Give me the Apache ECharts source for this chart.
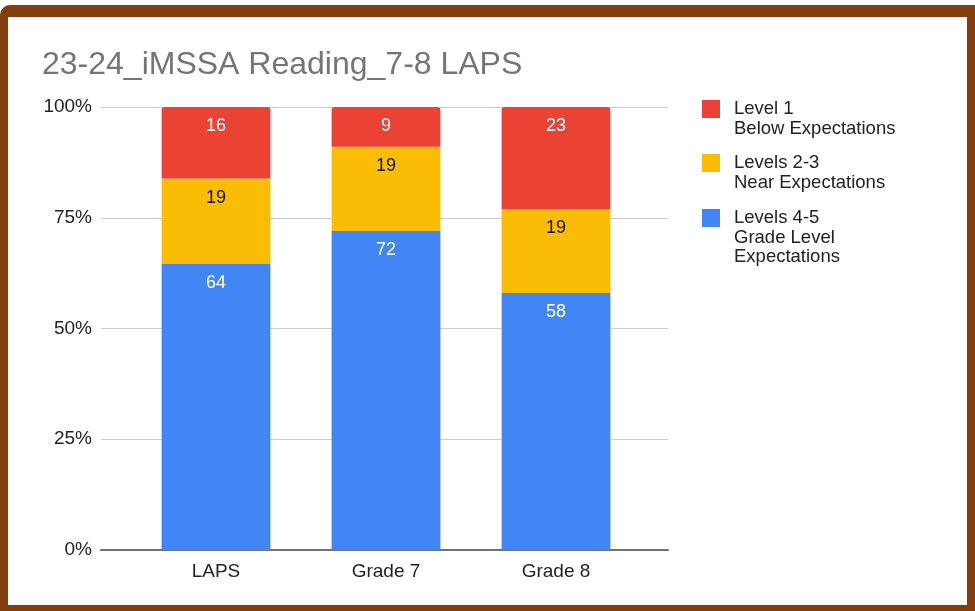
<!DOCTYPE html>
<html>
<head>
<meta charset="utf-8">
<script src="https://cdn.jsdelivr.net/npm/echarts@6/dist/echarts.min.js"></script>
<style>
  html, body { margin: 0; padding: 0; background: #ffffff; }
  #frame { position: absolute; left: 0; top: 5px; width: 975px; height: 606px; background: #833c0b; border-top-left-radius: 10px; }
  #inner { position: absolute; left: 8px; top: 17px; width: 959px; height: 588px; background: #ffffff; }
  #chart { position: absolute; left: 0; top: 0; width: 975px; height: 611px; }
</style>
</head>
<body>
<div id="frame"></div>
<div id="inner"></div>
<div id="chart"></div>
<script>
const titleText = '23-24_iMSSA Reading_7-8 LAPS';
const categories = ['LAPS', 'Grade 7', 'Grade 8'];
const level1 = [16, 9, 23];
const level23 = [19, 19, 19];
const level45 = [64, 72, 58];
const seriesNames = ['Level 1\nBelow Expectations', 'Levels 2-3\nNear Expectations', 'Levels 4-5\nGrade Level\nExpectations'];
const seriesColors = ['#ea4335', '#fbbc04', '#4285f4'];
const yTickValues = [0, 25, 50, 75, 100];

const totals = categories.map((c, i) => level1[i] + level23[i] + level45[i]);
const pct = arr => arr.map((v, i) => v / totals[i] * 100);

const font = '"Liberation Sans", Arial, sans-serif';

function mkSeries(name, raw, color, labelColor, radius) {
  return {
    name: name,
    type: 'bar',
    stack: 'total',
    xAxisIndex: 1,
    yAxisIndex: 1,
    barCategoryGap: '36%',
    data: pct(raw),
    itemStyle: { color: color, borderRadius: radius },
    label: {
      show: true,
      position: 'insideTop',
      distance: 10,
      color: labelColor,
      fontFamily: font,
      fontSize: 18,
      formatter: p => String(raw[p.dataIndex])
    }
  };
}

function mkLegend(idx, top, pre) {
  return {
    orient: 'vertical',
    left: 702,
    top: top,
    padding: 0,
    icon: 'rect',
    itemWidth: 18,
    itemHeight: 18,
    selectedMode: false,
    data: [seriesNames[idx]],
    formatter: name => pre + name,
    textStyle: { fontFamily: font, fontSize: 18.5, color: '#222222', lineHeight: 19.5, padding: [0, 0, 0, 9] }
  };
}

const chart = echarts.init(document.getElementById('chart'), null, { renderer: 'canvas' });
chart.setOption({
  animation: false,
  backgroundColor: 'transparent',
  title: {
    text: titleText,
    left: 37,
    top: 44,
    textStyle: { fontFamily: font, fontSize: 32, fontWeight: 'normal', color: '#757575' }
  },
  legend: [
    mkLegend(0, 79.75, '\n'),
    mkLegend(1, 133.75, '\n'),
    mkLegend(2, 169.25, '\n\n')
  ],
  grid: [
    { left: 101, right: 307, top: 107, bottom: 61 },
    { left: 131, right: 334, top: 107, bottom: 61 }
  ],
  xAxis: [
    {
      gridIndex: 0, type: 'value', min: 0, max: 1,
      axisLine: { show: true, lineStyle: { color: '#707070', width: 2 } },
      axisTick: { show: false }, axisLabel: { show: false }, splitLine: { show: false }
    },
    {
      gridIndex: 1, type: 'category', data: categories,
      axisLine: { show: false }, axisTick: { show: false },
      axisLabel: { margin: 12, color: '#222222', fontFamily: font, fontSize: 19 }
    }
  ],
  yAxis: [
    {
      gridIndex: 0, type: 'value', min: yTickValues[0], max: yTickValues[yTickValues.length - 1],
      interval: yTickValues[1] - yTickValues[0],
      axisLine: { show: false }, axisTick: { show: false },
      axisLabel: { margin: 9, color: '#222222', fontFamily: font, fontSize: 19, formatter: '{value}%' },
      splitLine: { lineStyle: { color: '#cccccc', width: 1 } }
    },
    {
      gridIndex: 1, type: 'value', min: 0, max: 100,
      show: false, splitLine: { show: false }
    }
  ],
  series: [
    mkSeries(seriesNames[2], level45, seriesColors[2], '#ffffff', 0),
    mkSeries(seriesNames[1], level23, seriesColors[1], '#111111', 0),
    mkSeries(seriesNames[0], level1, seriesColors[0], '#ffffff', [3, 3, 0, 0])
  ]
});
</script>
</body>
</html>
